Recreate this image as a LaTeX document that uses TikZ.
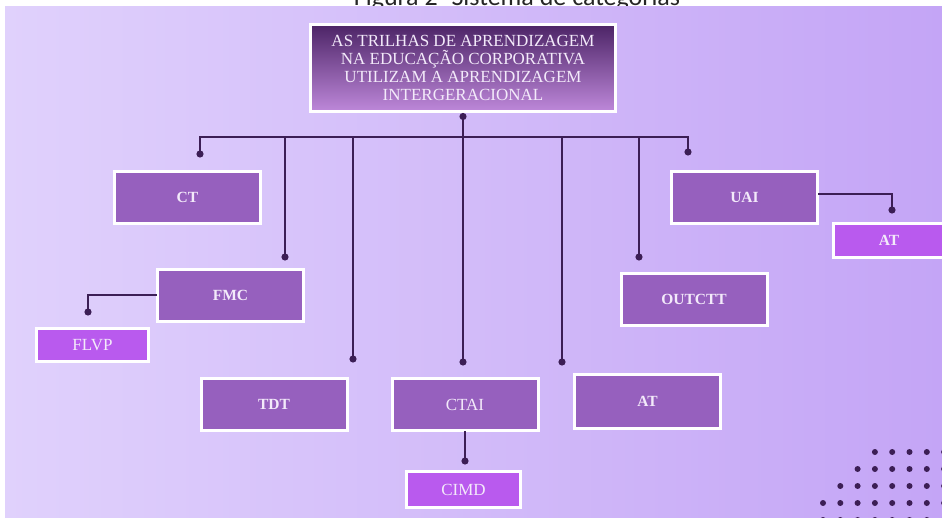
\documentclass[tikz,border=0pt]{standalone}
\usepackage{fontspec}
\setmainfont{Liberation Serif}
\newfontfamily\captionfont{Carlito}
\usetikzlibrary{positioning}
\usetikzlibrary{arrows.meta}
\definecolor{bgleft}{RGB}{224,209,252}
\definecolor{bgright}{RGB}{196,165,246}
\definecolor{boxfill}{RGB}{150,96,190}
\definecolor{subfill}{RGB}{185,90,238}
\definecolor{linecol}{RGB}{60,30,85}
\definecolor{titletop}{RGB}{76,36,102}
\definecolor{titlebot}{RGB}{190,136,218}
\definecolor{txtcol}{RGB}{243,234,250}

\begin{document}
\begin{tikzpicture}[x=1pt,y=-1pt,
titlenode/.style={rectangle, draw=white, line width=3pt, top color=titletop, bottom color=titlebot, minimum width=305pt, minimum height=87pt, inner sep=0pt, align=center, text=txtcol, font=\fontsize{17}{18}\selectfont},
boxnode/.style={rectangle, draw=white, line width=3pt, fill=boxfill, minimum width=146pt, minimum height=52pt, inner sep=0pt, text=txtcol, font=\fontsize{15.5}{18}\selectfont\bfseries},
subnode/.style={rectangle, draw=white, line width=3pt, fill=subfill, minimum width=112pt, minimum height=33pt, inner sep=0pt, text=txtcol, font=\fontsize{17}{18}\selectfont},
link/.style={draw=linecol, line width=2pt, line cap=rect},
]
\useasboundingbox (0,0) rectangle (942,518);
%Caption
\begin{scope}
\clip (0,0) rectangle (942,7);
\node[font=\captionfont\fontsize{26}{28}\selectfont, anchor=base, text=black!85] (caption) at (517,5.5) {Figura 2- Sistema de categorias};
\end{scope}
%Background
\shade[left color=bgleft, right color=bgright] (5,7) rectangle (942,518);
\foreach \r/\s in {0/3,1/2,2/1,3/0,4/0}
  \foreach \k in {\s,...,7}
    \fill[linecol] (823+17.3*\k, 452+17*\r) circle (3pt);
%Nodes
\node[titlenode]   (title)   at (463,68)      {AS TRILHAS DE APRENDIZAGEM\\NA EDUCAÇÃO CORPORATIVA\\UTILIZAM A APRENDIZAGEM\\INTERGERACIONAL};
\node[boxnode]     (ct)      at (187.5,197.5) {CT};
\node[boxnode]     (fmc)     at (230.5,295.5) {FMC};
\node[subnode]     (flvp)    at (92.5,345)    {FLVP};
\node[boxnode]     (tdt)     at (274,404.5)   {TDT};
\node[boxnode, font=\fontsize{17}{18}\selectfont] (ctai) at (465,404.5) {CTAI};
\node[subnode, minimum width=114pt, minimum height=36pt] (cimd) at (463.5,489.5) {CIMD};
\node[boxnode, minimum height=54pt] (at) at (647.5,401.5) {AT};
\node[boxnode]     (outctt)  at (694,299.5)   {OUTCTT};
\node[boxnode]     (uai)     at (744.5,197.5) {UAI};
\node[subnode, minimum width=111pt, minimum height=34pt, font=\fontsize{15.5}{18}\selectfont\bfseries] (uaiat) at (889,240.5) {AT};
%Dots
\coordinate (bar)   at (0,137);
\coordinate (dct)   at (200,157.5);
\coordinate (dfmc)  at (285,260.5);
\coordinate (dtdt)  at (353,362.5);
\coordinate (dctai) at (463,365.5);
\coordinate (dat)   at (562,365.5);
\coordinate (dout)  at (639,260.5);
\coordinate (duai)  at (688,155.5);
\coordinate (dflvp) at (88,315.5);
\coordinate (duaiat) at (892,213.5);
\coordinate (dcimd) at (465,464.5);
%Lines
\draw[link, {Circle[length=7pt]}-{Circle[length=7pt]}] (title.south) -- (dctai);
\draw[link] (dct |- bar) -- (duai |- bar);
\draw[link, -{Circle[length=7pt]}] (dct |- bar) -- (dct);
\draw[link, -{Circle[length=7pt]}] (dfmc |- bar) -- (dfmc);
\draw[link, -{Circle[length=7pt]}] (dtdt |- bar) -- (dtdt);
\draw[link, -{Circle[length=7pt]}] (dat |- bar) -- (dat);
\draw[link, -{Circle[length=7pt]}] (dout |- bar) -- (dout);
\draw[link, -{Circle[length=7pt]}] (duai |- bar) -- (duai);
\draw[link, -{Circle[length=7pt]}] (fmc.west) -| (dflvp);
\draw[link, -{Circle[length=7pt]}] ([yshift=3.5pt]uai.east) -| (duaiat);
\draw[link, -{Circle[length=7pt]}] (ctai.south) -- (dcimd);

\end{tikzpicture}
\end{document}
